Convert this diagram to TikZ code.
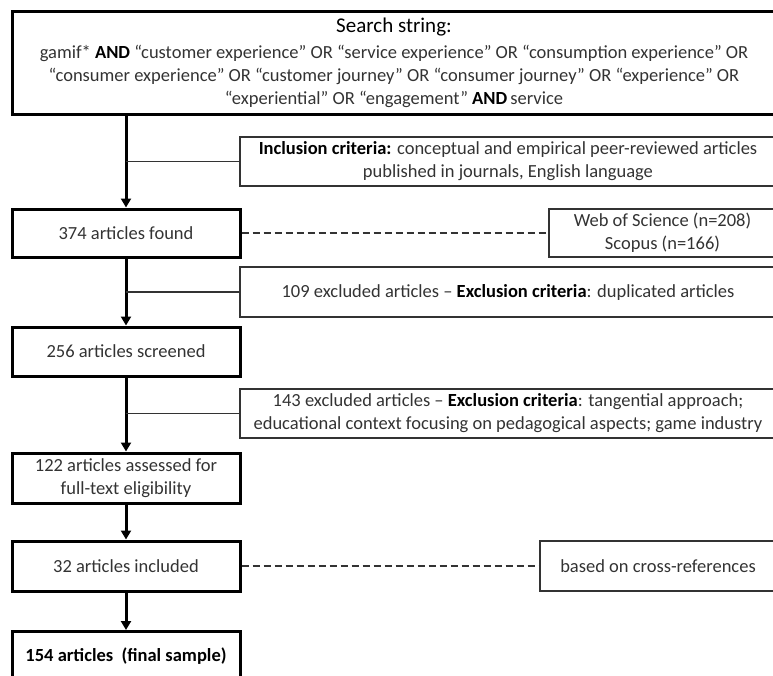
\documentclass[tikz,border=0pt]{standalone}
\usepackage{fontspec}
\setmainfont{Carlito}
\usetikzlibrary{arrows.meta}
\definecolor{ink}{HTML}{333333}
\tikzset{
  mainbox/.style={draw=black, line width=3pt, inner sep=0pt, align=center,
    text=ink, font=\fontsize{18.5}{23}\selectfont},
  sidebox/.style={draw=ink, line width=1.1pt, inner sep=0pt, align=center,
    text=ink, font=\fontsize{18.5}{23}\selectfont},
  flow/.style={line width=3pt, -{Triangle[length=9pt,width=10pt]}},
  branch/.style={draw=ink, line width=1.1pt},
  linkdash/.style={draw=ink, line width=1.1pt, dash pattern=on 7pt off 4pt}
}
\begin{document}
\begin{tikzpicture}[x=1pt,y=-1pt]
\useasboundingbox (0,0) rectangle (773,675);

% left column: main stages
\node[mainbox, minimum width=764pt, minimum height=103pt] (search) at (394,62.5)
  {{\color{black}\fontsize{21}{26}\selectfont Search string:}\\[3pt]
   gamif* {\color{black}\bfseries AND} “customer experience” OR “service experience” OR “consumption experience” OR\\
   “consumer experience” OR “customer journey” OR “consumer journey” OR “experience” OR\\
   “experiential” OR “engagement” {\color{black}\bfseries AND}\,service};
\node[mainbox, minimum width=228pt, minimum height=48pt] (found) at (126,233) {374 articles found};
\node[mainbox, minimum width=228pt, minimum height=49pt] (screened) at (126,351.5) {256 articles screened};
\node[mainbox, minimum width=228pt, minimum height=50pt] (assessed) at (126,478) {122 articles assessed for\\full-text eligibility};
\node[mainbox, minimum width=228pt, minimum height=50pt] (included) at (126,566) {32 articles included};
\node[mainbox, minimum width=228pt, minimum height=50pt, anchor=north] (final) at (126,630) {\color{black}\bfseries 154 articles\ \ (final sample)};

% right column: criteria and sources
\node[sidebox, minimum width=536pt, minimum height=49pt] (incl) at (508,161.5)
  {{\color{black}\bfseries Inclusion criteria:} conceptual and empirical\ peer-reviewed articles\\published in journals, English language};
\node[sidebox, minimum width=227pt, minimum height=48pt] (sources) at (662.5,233)
  {Web of Science (n=208)\\Scopus (n=166)};
\node[sidebox, minimum width=536pt, minimum height=50pt] (dup) at (508,292)
  {109 excluded articles – {\color{black}\bfseries Exclusion criteria}: duplicated articles};
\node[sidebox, minimum width=536pt, minimum height=49pt] (tang) at (508,413.5)
  {143 excluded articles – {\color{black}\bfseries Exclusion criteria}: tangential approach;\\educational context focusing on pedagogical aspects; game industry};
\node[sidebox, minimum width=236pt, minimum height=50pt] (xref) at (658,566)
  {based on cross-references};

% main flow
\draw[flow] (search.south -| found.north) -- (found.north);
\draw[flow] (found.south) -- (screened.north);
\draw[flow] (screened.south) -- (assessed.north);
\draw[flow] (assessed.south) -- (included.north);
\draw[flow] (included.south) -- (final.north);

% side branches
\coordinate (b1) at (found.north |- incl.west);
\coordinate (b2) at (found.north |- dup.west);
\coordinate (b3) at (found.north |- tang.west);
\draw[branch] (b1) -- (incl.west);
\draw[branch] (b2) -- (dup.west);
\draw[branch] (b3) -- (tang.west);

% dashed links
\draw[linkdash] (found.east) -- (sources.west);
\draw[linkdash] (included.east) -- (xref.west);
\end{tikzpicture}
\end{document}
